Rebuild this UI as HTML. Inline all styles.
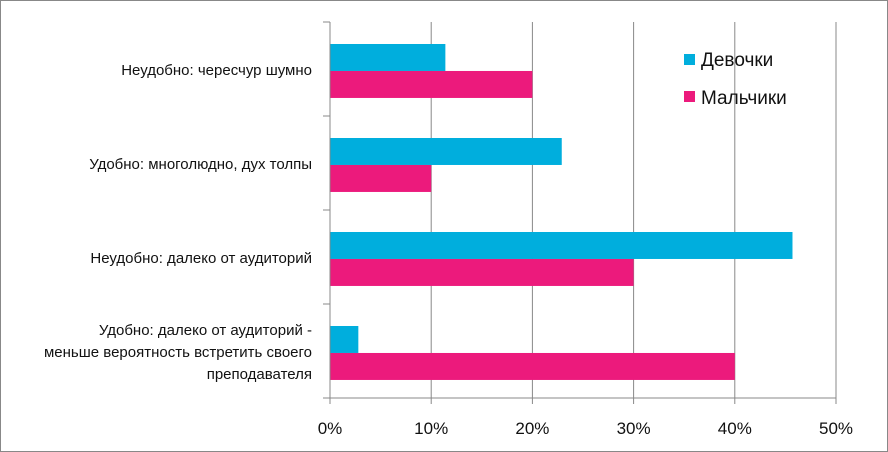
<!DOCTYPE html>
<html><head><meta charset="utf-8"><style>
body{margin:0;background:#fff}
svg{display:block;font-family:"Liberation Sans","DejaVu Sans",sans-serif}
</style></head><body>
<svg width="888" height="452">
<rect x="0.5" y="0.5" width="887" height="451" fill="#fff" stroke="#888"/>
<g id="grid"></g><g id="bars"></g><g id="axes"></g>
<g>
<rect x="684" y="54" width="11" height="11" fill="#00AEDD"/>
<text x="701" y="66" font-size="19" fill="#111">Девочки</text>
<rect x="684" y="91" width="11" height="11" fill="#EC1A7C"/>
<text x="701" y="104" font-size="19" fill="#111">Мальчики</text>
</g>
</svg>
<script>
const categories=[["Неудобно: чересчур шумно"],["Удобно: многолюдно, дух толпы"],["Неудобно: далеко от аудиторий"],["Удобно: далеко от аудиторий -","меньше вероятность встретить своего","преподавателя"]];
const girls=[11.4,22.9,45.7,2.8];
const boys=[20,10,30,40];
const ticks=[0,10,20,30,40,50];
const ns="http://www.w3.org/2000/svg";
const X0=330,X1=836,Y0=22,Y1=398,MAX=50;
const x=v=>X0+(X1-X0)*v/MAX;
const band=(Y1-Y0)/categories.length;
function mk(t,a,p){const e=document.createElementNS(ns,t);for(const k in a)e.setAttribute(k,a[k]);document.getElementById(p).appendChild(e);return e;}
ticks.forEach((t,i)=>{
  if(i>0){const g=mk('line',{x1:x(t),x2:x(t),y1:Y0,y2:Y1,stroke:'#888'},'grid');
  
  }
  const l=mk('text',{x:x(t),y:434,'font-size':17,'text-anchor':'middle',fill:'#111'},'axes');
  l.textContent=t+'%';
  
  
});
categories.forEach((c,i)=>{
  const top=Y0+i*band;
  const bg=mk('rect',{x:X0,y:top+band*0.234,width:x(girls[i])-X0,height:band*0.287,fill:'#00AEDD'},'bars');
  
  
  const bb=mk('rect',{x:X0,y:top+band*0.521,width:x(boys[i])-X0,height:band*0.287,fill:'#EC1A7C'},'bars');
  
  
  const cy=top+band/2;const n=c.length;
  c.forEach((line,j)=>{
    const t=mk('text',{x:312,y:cy+6+(j-(n-1)/2)*22,'font-size':15,'text-anchor':'end',fill:'#111'},'axes');
    t.textContent=line;
    
    
  });
});
for(let i=0;i<=categories.length;i++){
  const y=Y0+i*band;
  const tk=mk('line',{x1:323,x2:X0,y1:y,y2:y,stroke:'#888'},'axes');
  
  
}
ticks.forEach(t=>{const tk=mk('line',{x1:x(t),x2:x(t),y1:Y1,y2:Y1+6,stroke:'#888'},'axes');
  
  });
const ya=mk('line',{x1:X0,x2:X0,y1:Y0,y2:Y1,stroke:'#888'},'axes');


const xa=mk('line',{x1:X0,x2:X1,y1:Y1,y2:Y1,stroke:'#888'},'axes');


</script>
</body></html>
